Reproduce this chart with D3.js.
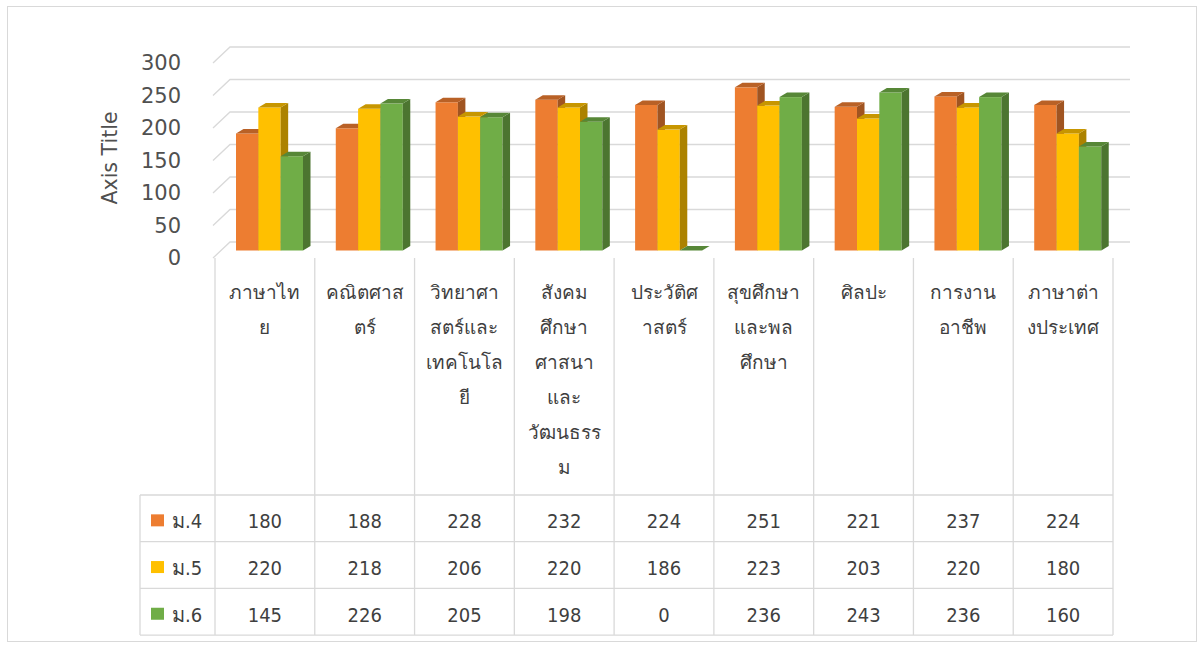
<!DOCTYPE html>
<html>
<head>
<meta charset="utf-8">
<script src="https://cdn.jsdelivr.net/npm/d3@7"></script>
<style>
  html, body { margin: 0; padding: 0; background: #ffffff; }
  svg { display: block; }
  text { font-family: "DejaVu Sans Condensed", "DejaVu Sans", "Noto Sans", sans-serif; font-stretch: condensed; }
</style>
</head>
<body>
<svg id="chart" width="1204" height="647"></svg>
<script>
// ---- data ----
const categories = ["ภาษาไทย", "คณิตศาสตร์", "วิทยาศาสตร์และเทคโนโลยี", "สังคมศึกษาศาสนาและวัฒนธรรม", "ประวัติศาสตร์", "สุขศึกษาและพลศึกษา", "ศิลปะ", "การงานอาชีพ", "ภาษาต่างประเทศ"];
const categoryLines = [
  ["ภาษาไท", "ย"],
  ["คณิตศาส", "ตร์"],
  ["วิทยาศา", "สตร์และ", "เทคโนโล", "ยี"],
  ["สังคม", "ศึกษา", "ศาสนา", "และ", "วัฒนธรร", "ม"],
  ["ประวัติศ", "าสตร์"],
  ["สุขศึกษา", "และพล", "ศึกษา"],
  ["ศิลปะ"],
  ["การงาน", "อาชีพ"],
  ["ภาษาต่า", "งประเทศ"]
];
const seriesNames = ["ม.4", "ม.5", "ม.6"];
const m4 = [180, 188, 228, 232, 224, 251, 221, 237, 224];
const m5 = [220, 218, 206, 220, 186, 223, 203, 220, 180];
const m6 = [145, 226, 205, 198, 0, 236, 243, 236, 160];
const seriesColors = ["#ED7D31", "#FFC000", "#70AD47"];
const yTicks = [0, 50, 100, 150, 200, 250, 300];
const axisTitle = "Axis Title";

const seriesValues = [m4, m5, m6];

// ---- layout ----
const svg = d3.select("#chart");
const gridColor = "#D9D9D9";
const textColor = "#3F3F3F";

// outer frame
svg.append("rect").attr("x", 7.5).attr("y", 6.5).attr("width", 1189).attr("height", 635)
  .attr("fill", "#fff").attr("stroke", "#D9D9D9").attr("stroke-width", 1);

const x = d3.scaleBand().domain(categories).range([215, 1113]).paddingInner(0).paddingOuter(0);
const sub = d3.scaleBand().domain(seriesNames).range([21, 88]);
const y = d3.scaleLinear().domain([0, 300]).range([250.5, 55.5]);

const backDy = -8.5, frontDy = 7.5;
const backX = 230, frontX = 213, wallRight = 1130;

// gridlines (side wall diagonals + back wall)
const grid = svg.append("g");
yTicks.forEach(v => {
  grid.append("path")
    .attr("d", `M${frontX},${y(v) + frontDy}L${backX},${y(v) + backDy}L${wallRight},${y(v) + backDy}`)
    .attr("fill", "none").attr("stroke", gridColor).attr("stroke-width", 1.3);
});

// y axis labels via d3 axis (domain/ticks hidden)
const yFront = d3.scaleLinear().domain([0, 300]).range([y(0) + frontDy, y(300) + frontDy]);
const yAxis = svg.append("g").attr("transform", "translate(181,0)")
  .call(d3.axisLeft(yFront).tickValues(yTicks).tickSize(0).tickPadding(0));
yAxis.select(".domain").remove();
yAxis.selectAll("text").attr("font-size", 21).attr("fill", "#505050")
  .style("font-family", '"DejaVu Sans", sans-serif').style("font-stretch", "normal");

// axis title
svg.append("text").attr("transform", "translate(110,158) rotate(-90)")
  .attr("text-anchor", "middle").attr("dominant-baseline", "central")
  .style("font-family", '"DejaVu Sans", sans-serif').style("font-stretch", "normal")
  .attr("font-size", 20.5).attr("fill", "#505050").text(axisTitle);

// 3D bars
const dX = 7.5, dY = -4.5;
const bars = svg.append("g");
categories.forEach((c, ci) => {
  seriesNames.forEach((s, si) => {
    const v = seriesValues[si][ci];
    const x0 = x(c) + sub(s), w = sub.bandwidth();
    const top = y(v), bot = y(0);
    const col = d3.color(seriesColors[si]);
    const g = bars.append("g");
    g.append("rect").attr("x", x0).attr("y", top).attr("width", w).attr("height", bot - top)
      .attr("fill", col.formatHex());
    g.append("path")
      .attr("d", `M${x0 + w},${top}L${x0 + w + dX},${top + dY}L${x0 + w + dX},${bot + dY}L${x0 + w},${bot}Z`)
      .attr("fill", col.darker(1.1).formatHex());
    g.append("path")
      .attr("d", `M${x0},${top}L${x0 + dX},${top + dY}L${x0 + w + dX},${top + dY}L${x0 + w},${top}Z`)
      .attr("fill", col.darker(0.7).formatHex());
  });
});

// data table
const tableTop = 258, rowTop = 495, rowH = 46.7, tableLeft = 140, tableRight = 1113;
const tbl = svg.append("g").attr("stroke", gridColor).attr("stroke-width", 1.3);
const bounds = categories.map(c => x(c)).concat([x.range()[1]]);
bounds.forEach(b => {
  tbl.append("line").attr("x1", b).attr("x2", b).attr("y1", tableTop).attr("y2", rowTop + 3 * rowH);
});
tbl.append("line").attr("x1", tableLeft).attr("x2", tableLeft).attr("y1", rowTop).attr("y2", rowTop + 3 * rowH);
for (let r = 0; r <= 3; r++) {
  tbl.append("line").attr("x1", tableLeft).attr("x2", tableRight)
    .attr("y1", rowTop + r * rowH).attr("y2", rowTop + r * rowH);
}

// category labels
const labelG = svg.append("g").attr("fill", textColor).attr("font-size", 19).attr("text-anchor", "middle");
categories.forEach((c, ci) => {
  categoryLines[ci].forEach((ln, li) => {
    labelG.append("text").attr("x", x(c) + x.bandwidth() / 2).attr("y", 292 + li * 35)
      .attr("dominant-baseline", "central").text(ln);
  });
});

// rows
seriesNames.forEach((s, si) => {
  const cy = rowTop + si * rowH + rowH / 2 + 3;
  svg.append("rect").attr("x", 151).attr("y", cy - 7).attr("width", 13).attr("height", 12)
    .attr("fill", seriesColors[si]);
  svg.append("text").attr("x", 172).attr("y", cy).attr("dominant-baseline", "central")
    .attr("font-size", 20).attr("fill", textColor).text(s);
  categories.forEach((c, ci) => {
    svg.append("text").attr("x", x(c) + x.bandwidth() / 2).attr("y", cy)
      .attr("dominant-baseline", "central").attr("text-anchor", "middle")
      .attr("font-size", 20).attr("fill", textColor).text(seriesValues[si][ci]);
  });
});
</script>
</body>
</html>
